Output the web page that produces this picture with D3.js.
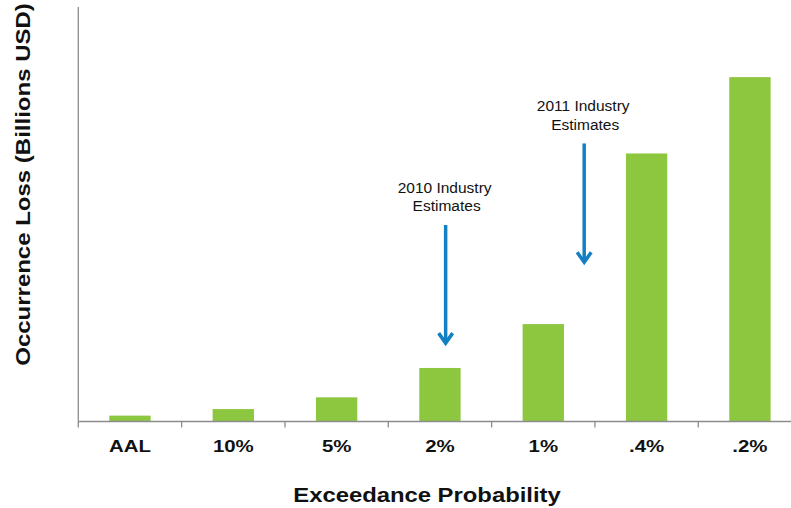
<!DOCTYPE html>
<html>
<head>
<meta charset="utf-8">
<script src="https://cdn.jsdelivr.net/npm/d3@7"></script>
<style>
  html, body { margin: 0; padding: 0; background: #fff; overflow: hidden; }
  svg { display: block; font-family: "Liberation Sans", Arial, Helvetica, sans-serif; }
</style>
</head>
<body>
<svg id="chart" width="791" height="508"></svg>
<script>
// Occurrence loss by exceedance probability (billions USD)
const categories = ["AAL", "10%", "5%", "2%", "1%", ".4%", ".2%"];
const losses = [1.7, 3.6, 7.0, 15.5, 28.2, 77.6, 99.7];

// Industry estimate markers: category they sit in, offset within the step, arrow span in loss units
const estimateLabels = [["2010 Industry", "Estimates"], ["2011 Industry", "Estimates"]];
const estimateCategories = ["2%", "1%"];
const estimateOffsets = [0.555, 0.896];
const estimateArrowTop = [56.9, 80.5];
const estimateArrowTip = [22.4, 45.8];

const svg = d3.select("#chart");
const width = 791, height = 508;

const x0 = 78.3, x1 = 801.6, yBase = 421.5, yTop = 7;

const x = d3.scaleBand()
  .domain(categories)
  .range([x0, x1])
  .paddingInner(0.6)
  .paddingOuter(0.3);

const y = d3.scaleLinear()
  .domain([0, 120])
  .range([yBase, yTop]);

const step = x.step();

// Bars
svg.append("g")
  .selectAll("rect")
  .data(categories)
  .join("rect")
  .attr("x", d => x(d))
  .attr("y", (d, i) => y(losses[i]))
  .attr("width", x.bandwidth())
  .attr("height", (d, i) => y(0) - y(losses[i]))
  .attr("fill", "#8dc63f");

// Axes
const axisColor = "#8c8c8c";
svg.append("line")
  .attr("x1", x0).attr("x2", width)
  .attr("y1", yBase).attr("y2", yBase)
  .attr("stroke", axisColor).attr("stroke-width", 1.3);

svg.append("line")
  .attr("x1", x0).attr("x2", x0)
  .attr("y1", yTop).attr("y2", yBase)
  .attr("stroke", axisColor).attr("stroke-width", 1.3);

// Tick marks at category boundaries
svg.append("g")
  .selectAll("line")
  .data(d3.range(categories.length + 1))
  .join("line")
  .attr("x1", i => x0 + i * step)
  .attr("x2", i => x0 + i * step)
  .attr("y1", yBase)
  .attr("y2", yBase + 6)
  .attr("stroke", axisColor)
  .attr("stroke-width", 1.3);

// Category labels
svg.append("g")
  .selectAll("text")
  .data(categories)
  .join("text")
  .attr("transform", d => `translate(${x(d) + x.bandwidth() / 2},452) scale(1.2,1)`)
  .attr("text-anchor", "middle")
  .attr("font-weight", "bold")
  .attr("font-size", 17)
  .attr("fill", "#111")
  .text(d => d);

// Axis titles
svg.append("text")
  .attr("transform", "translate(427,501.5) scale(1.135,1)")
  .attr("text-anchor", "middle")
  .attr("font-weight", "bold")
  .attr("font-size", 21)
  .attr("fill", "#111")
  .text("Exceedance Probability");

svg.append("text")
  .attr("transform", "translate(30,184.5) rotate(-90) scale(1.2,1)")
  .attr("text-anchor", "middle")
  .attr("font-weight", "bold")
  .attr("font-size", 20)
  .attr("fill", "#111")
  .text("Occurrence Loss (Billions USD)");

// Industry estimate annotations
const arrowColor = "#1380c4";
estimateCategories.forEach((c, i) => {
  const ax = x0 + categories.indexOf(c) * step + estimateOffsets[i] * step;
  const top = y(estimateArrowTop[i]);
  const tip = y(estimateArrowTip[i]);
  const g = svg.append("g");
  g.append("line")
    .attr("x1", ax).attr("x2", ax)
    .attr("y1", top).attr("y2", tip - 1)
    .attr("stroke", arrowColor).attr("stroke-width", 3.5);
  g.append("path")
    .attr("d", `M${ax - 7},${tip - 11} L${ax},${tip - 1} L${ax + 7},${tip - 11}`)
    .attr("fill", "none")
    .attr("stroke", arrowColor)
    .attr("stroke-width", 3.5)
    .attr("stroke-linejoin", "miter");
  const t = g.append("text")
    .attr("text-anchor", "middle")
    .attr("font-size", 15.5)
    .attr("fill", "#111");
  t.append("tspan").attr("x", ax - 1).attr("y", top - 32).text(estimateLabels[i][0]);
  t.append("tspan").attr("x", ax + 1).attr("y", top - 13.5).text(estimateLabels[i][1]);
});
</script>
</body>
</html>
